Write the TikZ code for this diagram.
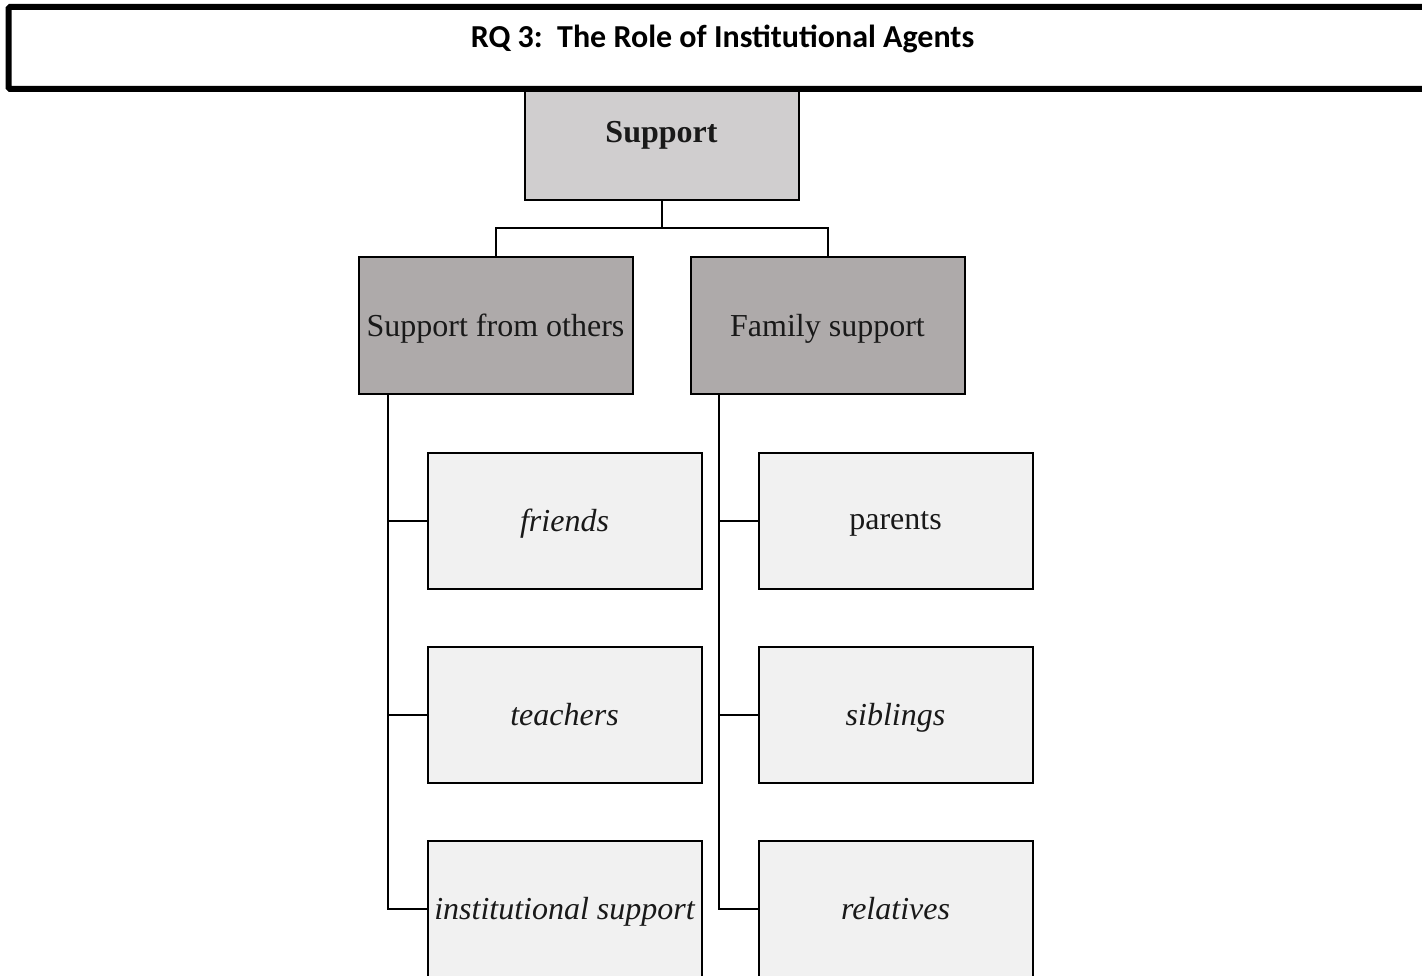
\documentclass[tikz,border=0pt]{standalone}
\usepackage{fontspec}
\setmainfont{Liberation Serif}
\newfontfamily\titlefont{Carlito}
\definecolor{topfill}{RGB}{208,206,207}
\definecolor{midfill}{RGB}{174,170,170}
\definecolor{leaffill}{RGB}{241,241,241}
\tikzset{
  box/.style={draw=black, line width=2pt, minimum width=274pt, minimum height=136pt,
    inner sep=0pt, outer sep=0pt, text depth=0pt, font=\fontsize{32}{38}\selectfont, text=black!90},
  topbox/.style={box, fill=topfill, font=\fontsize{32}{38}\selectfont\bfseries},
  midbox/.style={box, fill=midfill},
  leafbox/.style={box, fill=leaffill},
  leafit/.style={leafbox, font=\fontsize{32}{38}\selectfont\itshape},
  link/.style={draw=black, line width=2pt},
}
\begin{document}
\begin{tikzpicture}[x=1pt, y=-1pt]
\useasboundingbox (0,0) rectangle (1422,976);
\clip (0,0) rectangle (1422,976);

% top of the hierarchy, partly under the heading bar
\node[topbox] (support) at (661.5,132) {Support};

% heading bar
\draw[line width=6pt, fill=white, rounded corners=1.5pt] (8.5,7) rectangle (1440,89);
\node[font=\titlefont\fontsize{32}{36}\selectfont\bfseries, anchor=base] (title) at (722.5,48)
  {RQ 3:\ \ The Role of Institutional Agents};

% second level
\node[midbox] (others) at (495.5,325.5) {Support from others};
\node[midbox] (family) at (827.5,325.5) {Family support};

% leaves
\node[leafit]  (friends)  at (564.5,520.5) {friends};
\node[leafit]  (teachers) at (564.5,714.5) {teachers};
\node[leafit]  (inst)     at (564.5,908.5) {institutional support};
\node[leafbox] (parents)  at (895.5,520.5) {parents};
\node[leafit]  (siblings) at (895.5,714.5) {siblings};
\node[leafit]  (relatives) at (895.5,908.5) {relatives};

% connectors
\coordinate (split) at ([yshift=-28pt]support.south);
\draw[link] (support.south) -- (split);
\draw[link] (split) -| (others.north);
\draw[link] (split) -| (family.north);

\draw[link] ([xshift=29pt]others.south west) |- (friends.west);
\draw[link] ([xshift=29pt]others.south west) |- (teachers.west);
\draw[link] ([xshift=29pt]others.south west) |- (inst.west);

\draw[link] ([xshift=28pt]family.south west) |- (parents.west);
\draw[link] ([xshift=28pt]family.south west) |- (siblings.west);
\draw[link] ([xshift=28pt]family.south west) |- (relatives.west);
\end{tikzpicture}
\end{document}
